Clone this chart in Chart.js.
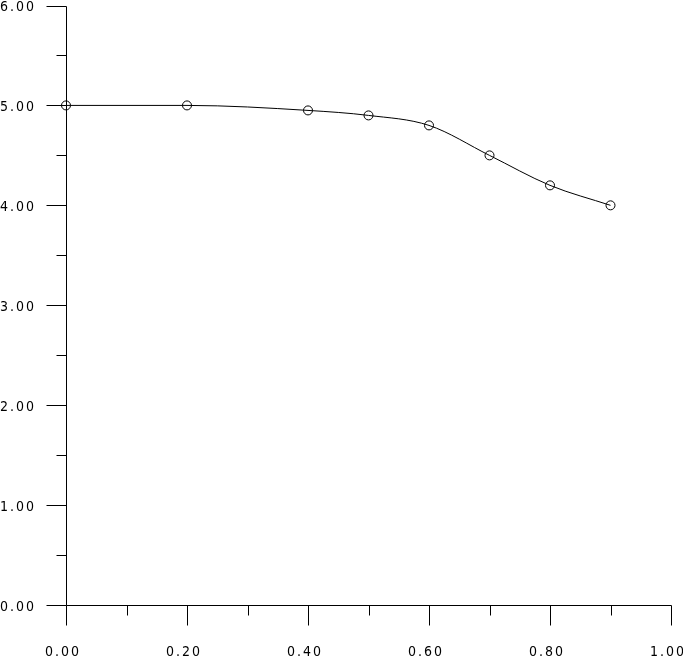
<!DOCTYPE html>
<html>
<head>
<meta charset="utf-8">
<script src="https://cdn.jsdelivr.net/npm/chart.js@4.4.0/dist/chart.umd.min.js"></script>
<style>
  html, body { margin: 0; padding: 0; background: #fff; }
  #wrap { width: 683px; height: 661px; }
</style>
</head>
<body>
<div id="wrap"><canvas id="graphic" width="683" height="661"></canvas></div>
<script>
// data
const xValues = [0.0, 0.2, 0.4, 0.5, 0.6, 0.7, 0.8, 0.9];
const yValues = [5.0, 5.0, 4.95, 4.9, 4.8, 4.5, 4.2, 4.0];
const xTicks = [0, 0.1, 0.2, 0.3, 0.4, 0.5, 0.6, 0.7, 0.8, 0.9, 1.0];
const yTicks = [0, 0.5, 1, 1.5, 2, 2.5, 3, 3.5, 4, 4.5, 5, 5.5, 6];
const xLabelStep = 0.2;
const yLabelStep = 1;

const LABEL_FONT = "'DejaVu Sans Condensed', 'DejaVu Sans', sans-serif";

function isMajor(v, step) {
  return Math.abs(v / step - Math.round(v / step)) < 1e-6;
}

// axis lines + long/short tick marks, drawn from the chart's own scales
const axesPlugin = {
  id: 'axes',
  afterDraw(chart) {
    const ctx = chart.ctx;
    const xs = chart.scales.x, ys = chart.scales.y;
    const x0 = Math.round(xs.getPixelForValue(0)) + 0.5;
    const y0 = Math.round(ys.getPixelForValue(0)) + 0.5;
    ctx.save();
    ctx.strokeStyle = '#000';
    ctx.lineWidth = 1;
    ctx.beginPath();
    // axis lines
    ctx.moveTo(x0, Math.round(ys.getPixelForValue(6)) + 0.5);
    ctx.lineTo(x0, y0);
    ctx.moveTo(x0, y0);
    ctx.lineTo(Math.round(xs.getPixelForValue(1)) + 0.5, y0);
    // x ticks
    for (const v of xTicks) {
      const px = Math.round(xs.getPixelForValue(v)) + 0.5;
      const len = isMajor(v, xLabelStep) ? 20 : 10;
      ctx.moveTo(px, y0);
      ctx.lineTo(px, y0 + len);
    }
    // y ticks
    for (const v of yTicks) {
      const py = Math.round(ys.getPixelForValue(v)) + 0.5;
      const len = isMajor(v, yLabelStep) ? 20 : 10;
      ctx.moveTo(x0, py);
      ctx.lineTo(x0 - len, py);
    }
    ctx.stroke();
    ctx.restore();
  }
};

// wide letter spacing on the tick labels
const spacingPlugin = {
  id: 'spacing',
  beforeDraw(chart) { chart.ctx.letterSpacing = '2px'; },
  afterDatasetsDraw(chart) { chart.ctx.letterSpacing = '0px'; }
};

let ctx = document.getElementById('graphic').getContext('2d');
let myChart = new Chart(ctx, {
  type: 'scatter',
  data: {
    datasets: [{
      data: xValues.map((x, i) => ({ x: x, y: yValues[i] })),
      showLine: true,
      borderColor: '#000',
      borderWidth: 1,
      cubicInterpolationMode: 'monotone',
      pointStyle: 'circle',
      pointRadius: 4.5,
      pointBorderWidth: 1,
      pointBorderColor: '#000',
      pointBackgroundColor: 'rgba(0,0,0,0)',
      clip: false
    }]
  },
  plugins: [spacingPlugin, axesPlugin],
  options: {
    responsive: false,
    animation: false,
    devicePixelRatio: 1,
    layout: { padding: { top: 5, right: 12, left: 0, bottom: 0 } },
    plugins: {
      legend: { display: false },
      tooltip: { enabled: false }
    },
    scales: {
      x: {
        type: 'linear',
        min: 0,
        max: 1,
        afterFit(scale) {
          scale.height = 56;
          scale.paddingLeft = 0;
          scale.paddingRight = 0;
        },
        afterBuildTicks(scale) {
          scale.ticks = xTicks.filter(v => isMajor(v, xLabelStep)).map(v => ({ value: v }));
        },
        grid: { display: false },
        border: { display: false },
        ticks: {
          color: '#000',
          font: { family: LABEL_FONT, size: 14 },
          padding: 31,
          labelOffset: -3,
          maxRotation: 0,
          autoSkip: false,
          callback: v => v.toFixed(2)
        }
      },
      y: {
        type: 'linear',
        min: 0,
        max: 6,
        afterFit(scale) {
          scale.width = 66;
          scale.paddingTop = 0;
          scale.paddingBottom = 0;
        },
        afterBuildTicks(scale) {
          scale.ticks = yTicks.filter(v => isMajor(v, yLabelStep)).map(v => ({ value: v }));
        },
        grid: { display: false },
        border: { display: false },
        ticks: {
          color: '#000',
          font: { family: LABEL_FONT, size: 14 },
          crossAlign: 'far',
          labelOffset: 2,
          autoSkip: false,
          callback: v => v.toFixed(2)
        }
      }
    }
  }
});
</script>
</body>
</html>
